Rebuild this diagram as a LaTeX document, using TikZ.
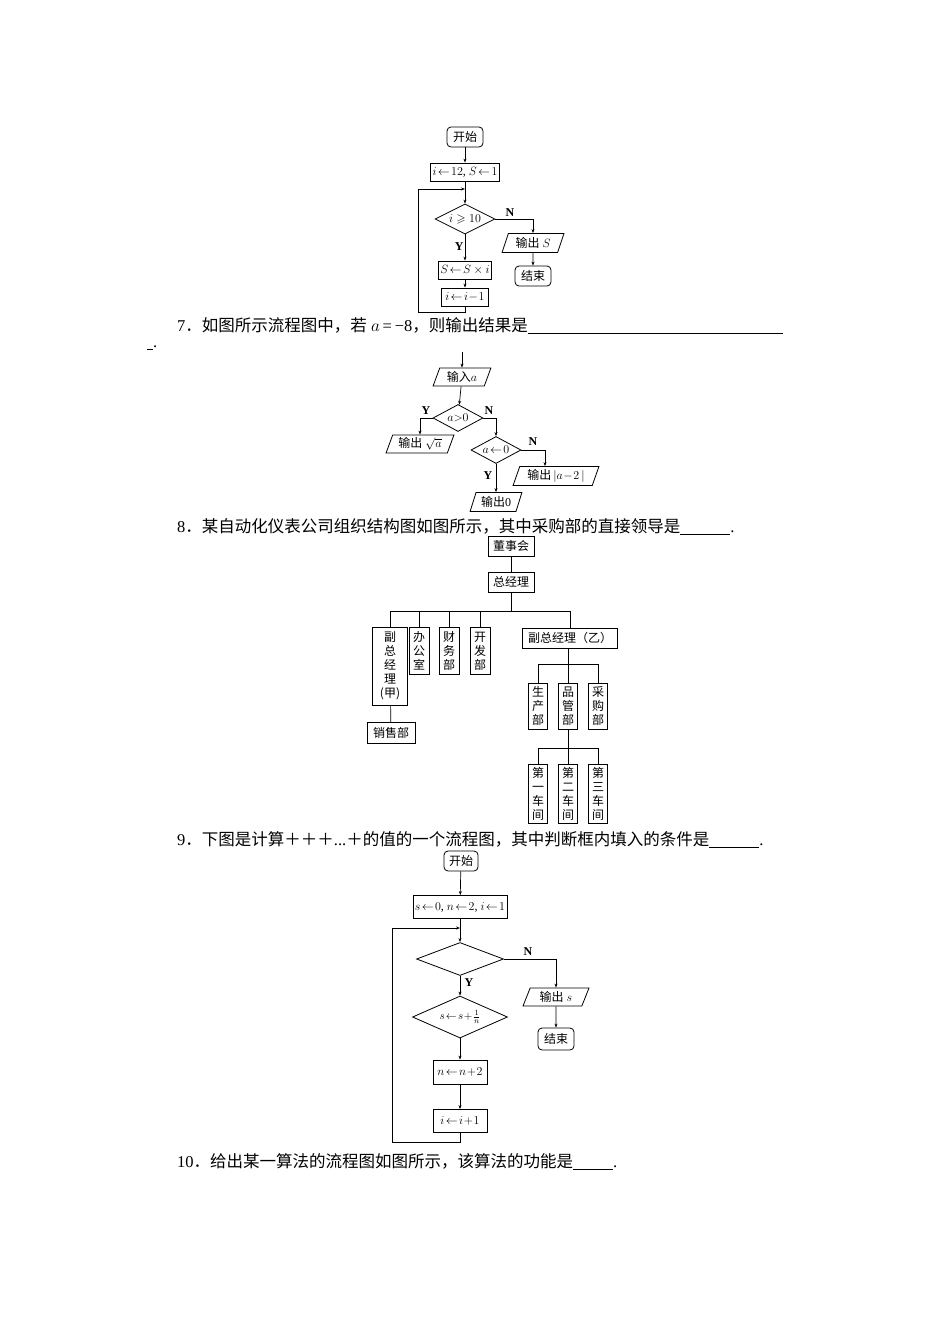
\documentclass[tikz,border=0pt]{standalone}
\usepackage{amssymb}
\usepackage{fontspec}
\setmainfont{Liberation Serif}
\newfontfamily\cjk{Noto Sans CJK SC}
\usetikzlibrary{shapes.geometric,arrows.meta}
\newcommand{\zh}[1]{{\cjk #1}}
\begin{document}
\begin{tikzpicture}[x=1pt,y=-1pt,
  every node/.style={font=\fontsize{12}{13}\selectfont, inner sep=1pt},
  box/.style={draw,line width=0.8pt,minimum height=#1,inner sep=2pt},
  box/.default=18pt,
  rbox/.style={draw,line width=0.8pt,rounded corners=4pt,minimum height=20pt,minimum width=36pt},
  dia/.style={draw,line width=0.8pt,diamond,aspect=2,inner sep=0pt},
  io/.style={draw,line width=0.8pt,trapezium,trapezium left angle=70,trapezium right angle=110,trapezium stretches=true,minimum height=19pt},
  vbox/.style={draw,line width=0.8pt,align=center,inner sep=2pt,font=\fontsize{12}{14}\selectfont},
  ln/.style={line width=0.7pt},
  ar/.style={line width=0.7pt,-{Stealth[length=4pt,width=3pt]}},
  lab/.style={font=\bfseries\fontsize{12}{13}\selectfont},
  txt/.style={anchor=west,font=\fontsize{16.5}{18}\selectfont}]
\useasboundingbox (0,0) rectangle (950,1344);
% chart 1
\node[rbox] (s1) at (465,137) {\zh{开始}};
\node[box,minimum width=64pt] (i1) at (465,172) {$i\!\leftarrow\!12$, $S\!\leftarrow\!1$};
\node[dia,minimum width=60pt,minimum height=30pt] (d1) at (465,219) {$i\geqslant 10$};
\node[io,minimum width=62pt] (o1) at (533,243) {\zh{输出} $S$};
\node[rbox] (e1) at (533,276) {\zh{结束}};
\node[box,minimum width=47pt] (b1) at (465,270) {$S\!\leftarrow\!S\times i$};
\node[box,minimum width=47pt] (b2) at (465,297) {$i\!\leftarrow\!i\!-\!1$};
\coordinate (c1a) at (465,189);
\coordinate (c1b) at (465,312);
\coordinate (c1c) at (418,312);
\coordinate (c1d) at (418,189);
\coordinate (c1r) at (533,219);
\draw[ar] (s1) -- (i1);
\draw[ar] (i1) -- (d1);
\draw[ar] (d1) -- node[lab,left=0pt,pos=0.45]{Y} (b1);
\draw[ar] (b1) -- (b2);
\draw[ar] (d1.east) -- (c1r) -- (o1);
\draw[ar] (o1) -- (e1);
\draw[ln] (b2) -- (c1b) -- (c1c) -- (c1d);
\draw[ar] (c1d) -- (c1a);
\node[lab] at (510,213) {N};
% text 7
\node[txt] (t7) at (176,326) {7\zh{．如图所示流程图中，若} $a$\,=\,−8\zh{，则输出结果是}\rule[-2pt]{255pt}{0.5pt}};
\node[txt] (t7b) at (146,348) {\rule[-2pt]{6pt}{0.5pt}.};
% chart 2
\coordinate (c2t) at (462,352);
\node[io,minimum width=58pt,minimum height=18pt] (in2) at (462,377) {\zh{输入}$a$};
\node[dia,minimum width=50pt,minimum height=27pt] (d2) at (458,418) {$a{>}0$};
\node[io,minimum width=68pt,minimum height=18pt] (o2a) at (420,444) {\zh{输出} $\sqrt{a}$};
\node[dia,minimum width=50pt,minimum height=27pt] (d3) at (496,450) {$a\!\leftarrow\!0$};
\node[io,minimum width=86pt,minimum height=19pt] (o2b) at (556,476) {\zh{输出}$\,|a\!-\!2\,|$};
\node[io,minimum width=52pt,minimum height=19pt] (o2c) at (496,502) {\zh{输出}0};
\coordinate (c2l) at (420,418);
\coordinate (c2r) at (496,418);
\coordinate (c3r) at (545,450);
\draw[ar] (c2t) -- (in2);
\draw[ar] (in2) -- (d2);
\draw[ar] (d2.west) -- (c2l) -- (o2a);
\draw[ar] (d2.east) -- (c2r) -- (d3);
\draw[ar] (d3.east) -- (c3r) -- (o2b.north -| c3r);
\draw[ar] (d3) -- (o2c);
\node[lab] at (426,411) {Y};
\node[lab] at (489,411) {N};
\node[lab] at (533,442) {N};
\node[lab] at (488,476) {Y};
% text 8
\node[txt] at (176,527) {8\zh{．某自动化仪表公司组织结构图如图所示，其中采购部的直接领导是}\rule[-2pt]{50pt}{0.5pt}.};
% org chart
\node[box=20pt,minimum width=46pt] (g1) at (511,546) {\zh{董事会}};
\node[box=20pt,minimum width=46pt] (g2) at (511,582) {\zh{总经理}};
\node[vbox,minimum width=35pt,minimum height=78pt] (f1) at (390,666) {\zh{副}\\\zh{总}\\\zh{经}\\\zh{理}\\\zh{(甲)}};
\node[vbox,minimum width=20pt,minimum height=47pt] (f2) at (419,651) {\zh{办}\\\zh{公}\\\zh{室}};
\node[vbox,minimum width=20pt,minimum height=47pt] (f3) at (449,651) {\zh{财}\\\zh{务}\\\zh{部}};
\node[vbox,minimum width=20pt,minimum height=47pt] (f4) at (480,651) {\zh{开}\\\zh{发}\\\zh{部}};
\node[box=20pt,minimum width=95pt] (f5) at (570,638) {\zh{副总经理（乙）}};
\node[box=21pt,minimum width=48pt] (x1) at (391,733) {\zh{销售部}};
\node[vbox,minimum width=19pt,minimum height=46pt] (p1) at (538,706) {\zh{生}\\\zh{产}\\\zh{部}};
\node[vbox,minimum width=19pt,minimum height=46pt] (p2) at (568,706) {\zh{品}\\\zh{管}\\\zh{部}};
\node[vbox,minimum width=19pt,minimum height=46pt] (p3) at (598,706) {\zh{采}\\\zh{购}\\\zh{部}};
\node[vbox,minimum width=19pt,minimum height=59pt] (q1) at (538,794) {\zh{第}\\\zh{一}\\\zh{车}\\\zh{间}};
\node[vbox,minimum width=19pt,minimum height=59pt] (q2) at (568,794) {\zh{第}\\\zh{二}\\\zh{车}\\\zh{间}};
\node[vbox,minimum width=19pt,minimum height=59pt] (q3) at (598,794) {\zh{第}\\\zh{三}\\\zh{车}\\\zh{间}};
\coordinate (bus1) at (511,611);
\draw[ln] (g1) -- (g2);
\draw[ln] (g2) -- (bus1);
\draw[ln] (f1.north) -- (f1.north |- bus1) -- (f5.north |- bus1) -- (f5.north);
\foreach \n in {f2,f3,f4} \draw[ln] (\n.north) -- (\n.north |- bus1);
\draw[ln] (f1) -- (x1);
\coordinate (bus2) at (568,664);
\draw[ln] (f5.south -| bus2) -- (bus2);
\draw[ln] (p1.north) -- (p1.north |- bus2) -- (p3.north |- bus2) -- (p3.north);
\draw[ln] (p2.north) -- (p2.north |- bus2);
\coordinate (bus3) at (568,748);
\draw[ln] (p2.south) -- (bus3);
\draw[ln] (q1.north) -- (q1.north |- bus3) -- (q3.north |- bus3) -- (q3.north);
\draw[ln] (q2.north) -- (q2.north |- bus3);
% text 9
\node[txt] at (176,840) {9\zh{．下图是计算＋＋＋}...\zh{＋的值的一个流程图，其中判断框内填入的条件是}\rule[-2pt]{50pt}{0.5pt}.};
% chart 4
\node[rbox,minimum width=34pt] (s4) at (461,861) {\zh{开始}};
\node[box=23pt,minimum width=85pt] (i4) at (460,907) {$s\!\leftarrow\!0$, $n\!\leftarrow\!2$, $i\!\leftarrow\!1$};
\node[dia,minimum width=87pt,minimum height=33pt] (d4) at (460,959) {};
\node[dia,minimum width=95pt,minimum height=42pt,font=\fontsize{11}{12}\selectfont] (d5) at (460,1017) {$s\!\leftarrow\!s\!+\!\frac{1}{n}$};
\node[box=24pt,minimum width=54pt] (b4) at (460,1072) {$n\!\leftarrow\!n\!+\!2$};
\node[box=23pt,minimum width=54pt] (b5) at (460,1121) {$i\!\leftarrow\!i\!+\!1$};
\node[io,minimum width=66pt,minimum height=18pt] (o4) at (556,997) {\zh{输出} $s$};
\node[rbox,minimum width=36pt,minimum height=22pt] (e4) at (556,1039) {\zh{结束}};
\coordinate (c4a) at (460,928);
\coordinate (c4b) at (460,1142);
\coordinate (c4c) at (392,1142);
\coordinate (c4d) at (392,928);
\coordinate (c4r) at (556,959);
\draw[ar] (s4) -- (i4);
\draw[ar] (i4) -- (d4);
\draw[ar] (d4) -- (d5);
\draw[ar] (d5) -- (b4);
\draw[ar] (b4) -- (b5);
\draw[ar] (d4.east) -- (c4r) -- (o4);
\draw[ar] (o4) -- (e4);
\draw[ln] (b5) -- (c4b) -- (c4c) -- (c4d);
\draw[ar] (c4d) -- (c4a);
\node[lab] at (528,952) {N};
\node[lab] at (469,983) {Y};
% text 10
\node[txt] at (176,1162) {10\zh{．给出某一算法的流程图如图所示，该算法的功能是}\rule[-2pt]{40pt}{0.5pt}.};
\end{tikzpicture}
\end{document}
